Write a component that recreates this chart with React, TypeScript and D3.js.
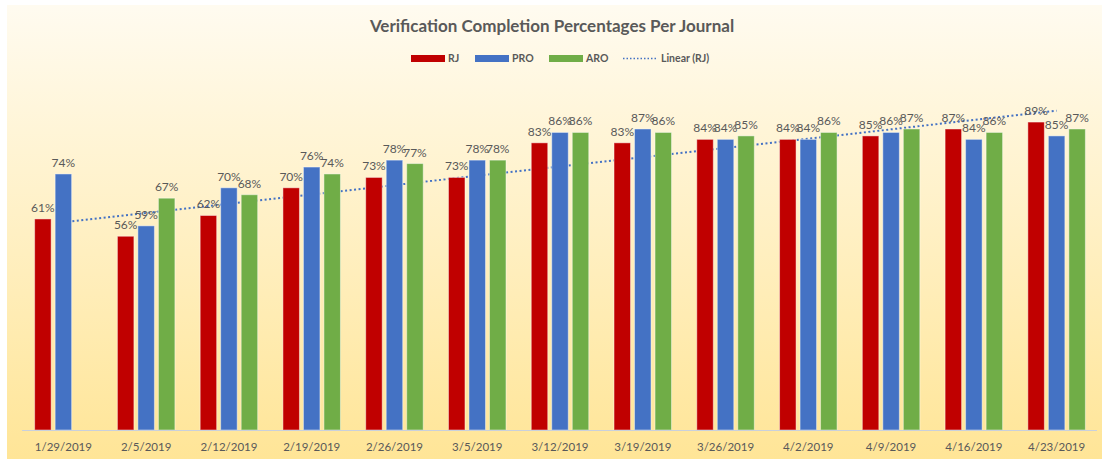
import React, { useEffect, useRef } from 'react'
import * as d3 from 'd3'

const dates = ['1/29/2019', '2/5/2019', '2/12/2019', '2/19/2019', '2/26/2019', '3/5/2019', '3/12/2019', '3/19/2019', '3/26/2019', '4/2/2019', '4/9/2019', '4/16/2019', '4/23/2019']
const rj = [61, 56, 62, 70, 73, 73, 83, 83, 84, 84, 85, 87, 89]
const pro = [74, 59, 70, 76, 78, 78, 86, 87, 84, 84, 86, 84, 85]
const aro = [null, 67, 68, 74, 77, 78, 86, 86, 85, 86, 87, 86, 87]
const seriesNames = ['RJ', 'PRO', 'ARO']
const colors = ['#C00000', '#4472C4', '#70AD47']

const W = 1102
const H = 459
const FONT = 'Lato, "Open Sans", sans-serif'

const App: React.FC = () => {
  const ref = useRef<SVGSVGElement | null>(null)

  useEffect(() => {
    document.body.style.margin = '0'
    const svg = d3.select(ref.current)
    svg.selectAll('*').remove()

    // background gradient
    const defs = svg.append('defs')
    const grad = defs.append('linearGradient').attr('id', 'bg').attr('x1', 0).attr('y1', 0).attr('x2', 0).attr('y2', 1)
    grad.append('stop').attr('offset', '0%').attr('stop-color', '#FFFBF0')
    grad.append('stop').attr('offset', '100%').attr('stop-color', '#FFE597')
    svg.append('rect').attr('x', 7).attr('y', 5).attr('width', W - 7).attr('height', H - 5).attr('fill', 'url(#bg)')

    const x0 = d3.scaleBand<string>().domain(dates).range([22, 1098])
    const x1 = d3.scaleBand<string>().domain(seriesNames).range([0, x0.bandwidth()]).paddingInner(0.195).paddingOuter(0.616)
    const y = d3.scaleLinear().domain([0, 100]).range([430, 84])

    // trendline (least squares on RJ), drawn under bars
    const xs = rj.map((_, i) => i + 1)
    const mx = d3.mean(xs) as number
    const my = d3.mean(rj) as number
    const slope = d3.sum(xs, (v, i) => (v - mx) * (rj[i] - my)) / d3.sum(xs, (v) => (v - mx) ** 2)
    const icpt = my - slope * mx
    const cx = (i: number) => (x0(dates[i]) as number) + x0.bandwidth() / 2
    svg.append('line')
      .attr('x1', cx(0)).attr('y1', y(icpt + slope * 1))
      .attr('x2', cx(dates.length - 1)).attr('y2', y(icpt + slope * dates.length))
      .attr('stroke', '#4472C4').attr('stroke-width', 2).attr('stroke-dasharray', '2,2.5')

    const series = [rj, pro, aro]
    const g = svg.append('g')
    series.forEach((vals, si) => {
      const data = vals.map((v, i) => ({ v, i })).filter((d) => d.v != null) as { v: number; i: number }[]
      g.selectAll(null).data(data).enter().append('rect')
        .attr('x', (d) => (x0(dates[d.i]) as number) + (x1(seriesNames[si]) as number))
        .attr('y', (d) => y(d.v))
        .attr('width', x1.bandwidth())
        .attr('height', (d) => y(0) - y(d.v))
        .attr('fill', colors[si])
        .attr('stroke', 'rgba(255,255,255,0.45)').attr('stroke-width', 1)
      g.selectAll(null).data(data).enter().append('text')
        .attr('x', (d) => (x0(dates[d.i]) as number) + (x1(seriesNames[si]) as number) + x1.bandwidth() / 2)
        .attr('y', (d) => y(d.v) - 7)
        .attr('text-anchor', 'middle')
        .attr('font-family', FONT).attr('font-size', 12).attr('fill', '#595959')
        .text((d) => `${d.v}%`)
    })

    // x axis
    svg.append('line').attr('x1', 22).attr('x2', 1097).attr('y1', 430.5).attr('y2', 430.5).attr('stroke', '#C9D0DC').attr('stroke-width', 1)
    svg.append('g').selectAll('text').data(dates).enter().append('text')
      .attr('x', (d) => (x0(d) as number) + x0.bandwidth() / 2)
      .attr('y', 451)
      .attr('text-anchor', 'middle')
      .attr('font-family', FONT).attr('font-size', 11.5).attr('fill', '#595959')
      .text((d) => d)

    // title
    svg.append('text').attr('x', 552).attr('y', 32).attr('text-anchor', 'middle')
      .attr('font-family', FONT).attr('font-weight', 'bold').attr('font-size', 17).attr('fill', '#595959')
      .text('Verification Completion Percentages Per Journal')

    // legend
    const leg = svg.append('g').attr('font-family', FONT).attr('font-size', 10.5).attr('font-weight', 'bold').attr('fill', '#595959')
    const legX = [411, 475, 549]
    seriesNames.forEach((n, i) => {
      leg.append('rect').attr('x', legX[i]).attr('y', 55).attr('width', 34).attr('height', 7).attr('fill', colors[i])
      leg.append('text').attr('x', legX[i] + 37).attr('y', 62).text(n)
    })
    leg.append('line').attr('x1', 623).attr('x2', 657).attr('y1', 58.5).attr('y2', 58.5)
      .attr('stroke', '#4472C4').attr('stroke-width', 1.5).attr('stroke-dasharray', '1.5,2')
    leg.append('text').attr('x', 661).attr('y', 62).text('Linear (RJ)')
  }, [])

  return <svg ref={ref} width={W} height={H} style={{ display: 'block' }}></svg>
}

export default App
